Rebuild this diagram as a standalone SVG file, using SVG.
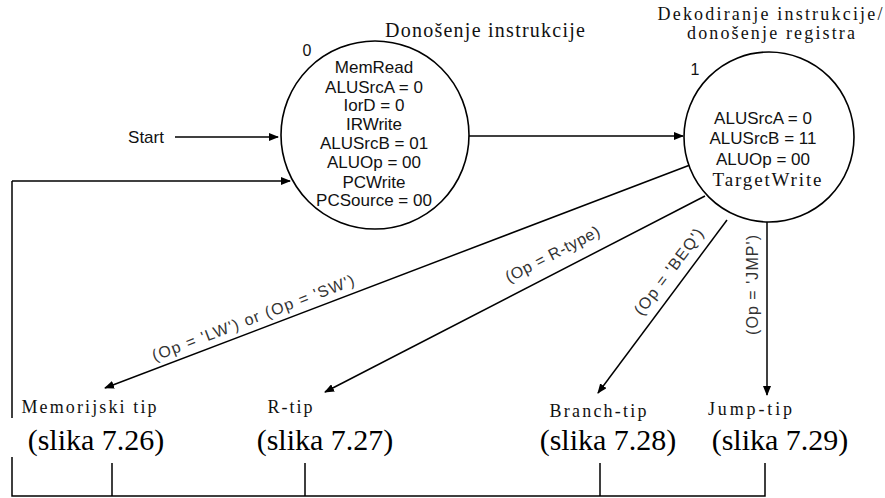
<svg xmlns="http://www.w3.org/2000/svg" width="885" height="498" viewBox="0 0 885 498">
<defs>
<marker id="arr" markerWidth="10" markerHeight="8" refX="9" refY="4" orient="auto" markerUnits="userSpaceOnUse">
<path d="M0,0 L10,4 L0,8 Z" fill="#000"/>
</marker>
<style>
.st{fill:#fff;stroke:#000;stroke-width:1.6}
.ln{fill:none;stroke:#000;stroke-width:1.5}
.ar{fill:none;stroke:#000;stroke-width:1.5;marker-end:url(#arr)}
.sans{font-family:"Liberation Sans",Arial,sans-serif;font-size:17px;fill:#111;text-anchor:middle}
.ser{font-family:"Liberation Serif","Times New Roman",serif;fill:#111}
.lbl{font-family:"Liberation Sans",Arial,sans-serif;font-size:16px;fill:#333;text-anchor:middle}
.big{font-family:"Liberation Serif","Times New Roman",serif;font-size:30px;fill:#000;text-anchor:middle}
</style>
</defs>
<rect width="885" height="498" fill="#fff"/>

<g id="connectors">
<path class="ar" d="M175,137 H278"/>
<path class="ln" d="M12,418 V181"/>
<path class="ar" d="M12,181 H290"/>
<path class="ar" d="M469,136 H683"/>
<path class="ar" d="M690,165 L105,388"/>
<path class="ar" d="M705,196 L325,392"/>
<path class="ar" d="M727,220 L598,393"/>
<path class="ar" d="M767,221 V395"/>
<path class="ln" d="M12,457 V496 H765 V463 M112,463 V496 M305,463 V496 M600,463 V496"/>
<text class="lbl" transform="translate(255,323) rotate(-20.9)" textLength="215" lengthAdjust="spacing">(Op = 'LW') or (Op = 'SW')</text>
<text class="lbl" transform="translate(555,259) rotate(-27.3)" textLength="104" lengthAdjust="spacing">(Op = R-type)</text>
<text class="lbl" transform="translate(673,275) rotate(-53)" textLength="104" lengthAdjust="spacing">(Op = 'BEQ')</text>
<text class="lbl" transform="translate(758,285) rotate(-90)" textLength="100" lengthAdjust="spacing">(Op = 'JMP')</text>
<text x="146" y="143" class="sans">Start</text>
</g>

<g id="state0">
<circle class="st" cx="375" cy="135" r="94"/>
<text x="307" y="56" class="sans" style="font-size:16px">0</text>
<text x="485" y="37" class="ser" font-size="20" text-anchor="middle" textLength="200" lengthAdjust="spacing">Donošenje instrukcije</text>
<text x="374" y="73" class="sans">MemRead</text>
<text x="374" y="93" class="sans">ALUSrcA = 0</text>
<text x="374" y="111" class="sans">IorD = 0</text>
<text x="374" y="130" class="sans">IRWrite</text>
<text x="374" y="149" class="sans">ALUSrcB = 01</text>
<text x="374" y="168" class="sans">ALUOp = 00</text>
<text x="374" y="188" class="sans">PCWrite</text>
<text x="374" y="206" class="sans">PCSource = 00</text>
</g>

<g id="state1">
<circle class="st" cx="769" cy="137" r="85"/>
<text x="695" y="75" class="sans" style="font-size:16px">1</text>
<text x="770" y="20" class="ser" font-size="18" text-anchor="middle" textLength="225" lengthAdjust="spacing">Dekodiranje instrukcije/</text>
<text x="771" y="39" class="ser" font-size="18" text-anchor="middle" textLength="168" lengthAdjust="spacing">donošenje registra</text>
<text x="763" y="124" class="sans">ALUSrcA = 0</text>
<text x="763" y="144" class="sans">ALUSrcB = 11</text>
<text x="763" y="165" class="sans">ALUOp = 00</text>
<text x="767" y="186" class="ser" font-size="19" text-anchor="middle" textLength="109" lengthAdjust="spacing">TargetWrite</text>
</g>

<g id="mem">
<text x="89" y="413" class="ser" font-size="18" text-anchor="middle" textLength="135" lengthAdjust="spacing">Memorijski tip</text>
<text x="96" y="450" class="big" style="font-family:'Liberation Serif','Times New Roman',serif">(slika 7.26)</text>
</g>
<g id="rtip">
<text x="290" y="413" class="ser" font-size="18" text-anchor="middle" textLength="45" lengthAdjust="spacing">R-tip</text>
<text x="325" y="450" class="big" style="font-family:'Liberation Serif','Times New Roman',serif">(slika 7.27)</text>
</g>
<g id="branch">
<text x="598" y="417" class="ser" font-size="18" text-anchor="middle" textLength="97" lengthAdjust="spacing">Branch-tip</text>
<text x="608" y="450" class="big" style="font-family:'Liberation Serif','Times New Roman',serif">(slika 7.28)</text>
</g>
<g id="jump">
<text x="750" y="415" class="ser" font-size="18" text-anchor="middle" textLength="84" lengthAdjust="spacing">Jump-tip</text>
<text x="780" y="450" class="big" style="font-family:'Liberation Serif','Times New Roman',serif">(slika 7.29)</text>
</g>
</svg>
